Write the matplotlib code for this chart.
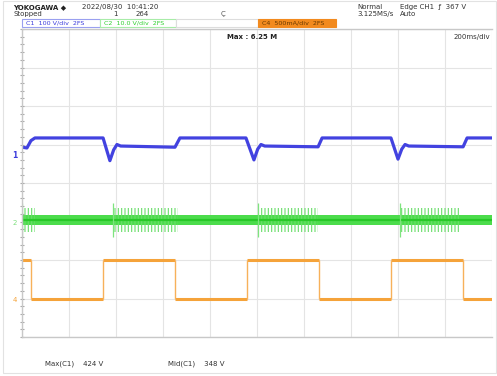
import matplotlib
matplotlib.use("Agg")
import matplotlib.pyplot as plt
from matplotlib.patches import Rectangle
from matplotlib.ticker import MultipleLocator

# ---- trace data (time in ms, 200 ms/div) ----
# C1: bus voltage, in screen divisions
blue_t = [0, 21, 38, 55, 345, 374, 390, 404, 420, 651, 672,
          953, 987, 1003, 1017, 1033, 1260, 1277,
          1570, 1600, 1616, 1630, 1646, 1877, 1894, 2000]
blue_v = [4.93, 4.91, 5.10, 5.17, 5.17, 4.58, 4.86, 5.00, 4.96, 4.93, 5.17,
          5.17, 4.60, 4.88, 5.00, 4.96, 4.94, 5.17,
          5.17, 4.62, 4.88, 5.00, 4.96, 4.94, 5.17, 5.17]

# C2: switching node, noise band centre and burst windows
green_center = 3.04
green_band = 0.13
green_burst = 0.30
green_spike = 0.45
green_bursts = [(0, 55), (387, 664), (1004, 1260), (1609, 1864)]

# C4: load current (mA), 500 mA/div, zero at 1 div
orange_t = [0, 38, 345, 651, 957, 1264, 1570, 1877, 2000]
orange_ma = [500, 0, 500, 0, 500, 0, 500, 0, 0]
orange_zero_div = 1.0
orange_scale = 500.0

W, H = 497, 376
fig = plt.figure(figsize=(W / 100, H / 100), dpi=100)
fig.patch.set_facecolor("white")


def fx(px):
    return px / W


def fy(py):
    return 1 - py / H


ax = fig.add_axes([fx(22), fy(337), fx(492) - fx(22), fy(29) - fy(337)])
ax.set_xlim(0, 2000)
ax.set_ylim(0, 8)
ax.xaxis.set_major_locator(MultipleLocator(200))
ax.yaxis.set_major_locator(MultipleLocator(1))
ax.yaxis.set_minor_locator(MultipleLocator(0.2))
ax.grid(True, which="major", color="#e4e4e4", lw=0.8)
ax.tick_params(axis="x", which="both", length=0, labelbottom=False)
ax.tick_params(axis="y", which="both", direction="inout", length=3,
               width=0.8, color="#a8a8a8", labelleft=False)
for s in ("left", "bottom", "top"):
    ax.spines[s].set_color("#c8c8c8")
    ax.spines[s].set_linewidth(1.0)
ax.spines["right"].set_visible(False)
ax.set_axisbelow(True)

# C2 noise band
plt.rcParams["hatch.linewidth"] = 0.8
ax.fill_between([0, 2000], green_center - green_band, green_center + green_band,
                color="#4cdc4c", lw=0)
ax.plot([0, 2000], [green_center, green_center], color="#28c828", lw=1.6)
for t0, t1 in green_bursts:
    ax.fill_between([t0, t1], green_center - green_burst, green_center + green_burst,
                    facecolor="none", edgecolor="#6ade6a", hatch="|||||", lw=0)
    ax.vlines(t0, green_center - green_spike, green_center + green_spike,
              color="#7ee47e", lw=0.9)

# C4 current square wave
o_div = [orange_zero_div + v / orange_scale for v in orange_ma]
ax.hlines(o_div[:-1], orange_t[:-1], orange_t[1:], color="#f5a33a", lw=2.2)
ax.vlines(orange_t[1:-1], o_div[:-2], o_div[1:-1], color="#f7b15a", lw=1.0)

# C1 voltage
ax.plot(blue_t, blue_v, color="#4242e0", lw=2.3, solid_joinstyle="round")

# ---- header ----
fs = 5
fig.text(fx(13), fy(7), "YOKOGAWA ◆", fontsize=fs, fontweight="bold",
         va="center", color="#222222")
fig.text(fx(82), fy(7), "2022/08/30  10:41:20", fontsize=fs, va="center", color="#333333")
fig.text(fx(13), fy(14), "Stopped", fontsize=fs, va="center", color="#333333")
fig.text(fx(113), fy(14), "1", fontsize=fs, va="center", color="#333333")
fig.text(fx(136), fy(14), "264", fontsize=fs, va="center", color="#333333")
fig.text(fx(221), fy(14), "Ç", fontsize=fs, va="center", color="#555555")
fig.text(fx(357), fy(7), "Normal", fontsize=fs, va="center", color="#333333")
fig.text(fx(357), fy(14), "3.125MS/s", fontsize=fs, va="center", color="#333333")
fig.text(fx(400), fy(7), "Edge CH1  ƒ  367 V", fontsize=fs, va="center", color="#333333")
fig.text(fx(400), fy(14), "Auto", fontsize=fs, va="center", color="#333333")

# channel boxes
boxes = [
    (22, 100, "C1  100 V/div  2FS", "#3c3cdc", "white", "#9aa0f0"),
    (100, 176, "C2  10.0 V/div  2FS", "#2fd02f", "white", "#a8eca8"),
    (176, 258, "", "#888888", "white", "#dddddd"),
    (258, 336, "C4  500mA/div  2FS", "#6a3a00", "#f28a1e", "#f28a1e"),
]
for x0, x1, label, tc, fc, ec in boxes:
    fig.patches.append(Rectangle((fx(x0), fy(27)), fx(x1) - fx(x0), fy(19) - fy(27),
                                 transform=fig.transFigure, facecolor=fc,
                                 edgecolor=ec, lw=0.8))
    if label:
        fig.text(fx(x0 + 4), fy(23), label, fontsize=4.6, va="center", color=tc)

fig.text(fx(252), fy(37), "Max : 6.25 M", fontsize=fs, fontweight="bold",
         ha="center", va="center", color="#222222")
fig.text(fx(490), fy(37), "200ms/div", fontsize=fs, ha="right", va="center",
         color="#333333")

# channel markers
fig.text(fx(15), fy(155), "1", fontsize=fs + 0.5, fontweight="bold", ha="center",
         va="center", color="#3c3cdc")
fig.text(fx(15), fy(223), "2", fontsize=fs, ha="center", va="center", color="#7ee07e")
fig.text(fx(15), fy(300), "4", fontsize=fs, ha="center", va="center", color="#f5a33a")

# measurements
fig.text(fx(45), fy(364), "Max(C1)    424 V", fontsize=fs, va="center", color="#333333")
fig.text(fx(168), fy(364), "Mid(C1)    348 V", fontsize=fs, va="center", color="#333333")

# outer frame
fig.patches.append(Rectangle((fx(3), fy(373)), fx(496) - fx(3), fy(1) - fy(373),
                             transform=fig.transFigure, facecolor="none",
                             edgecolor="#e2e2e2", lw=0.8))

fig.savefig("out.png", dpi=100)
